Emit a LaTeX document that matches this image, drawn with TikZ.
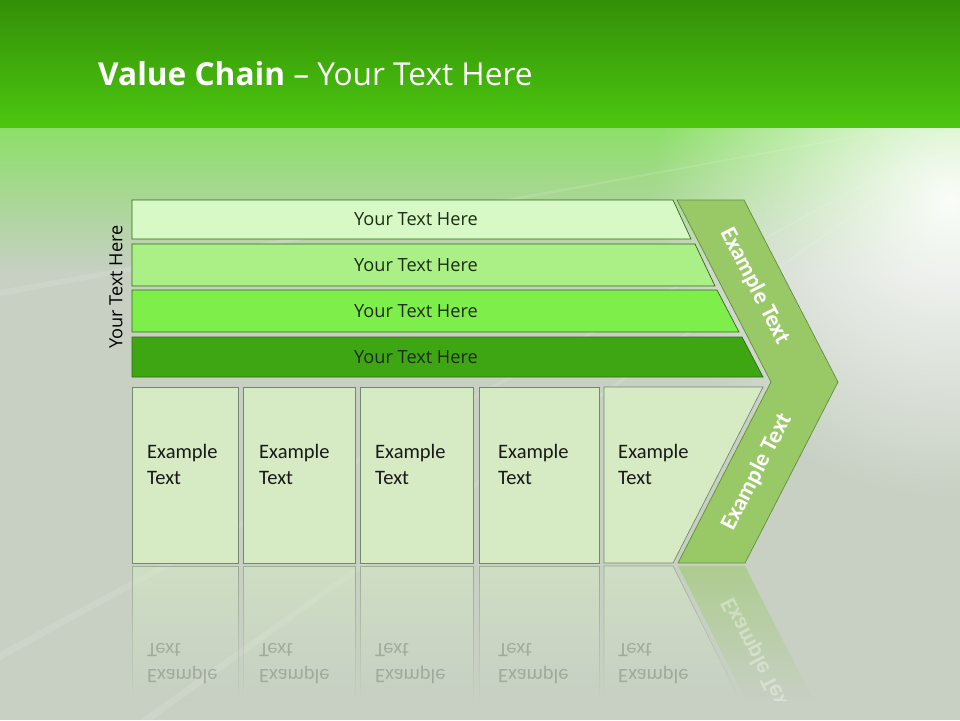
\documentclass[tikz,border=0pt]{standalone}
\usepackage{fontspec}
\setmainfont{Carlito}
\newfontfamily\barfont[Ligatures=TeX]{Open Sans}
\usetikzlibrary{fadings}

\definecolor{titletop}{HTML}{338F07}
\definecolor{titlebot}{HTML}{4CC70F}
\definecolor{bggrey}{HTML}{C7D0C3}
\definecolor{haze}{HTML}{8CE068}
\definecolor{barA}{HTML}{D6F9C6}
\definecolor{barB}{HTML}{AAF087}
\definecolor{barC}{HTML}{7EEE4B}
\definecolor{barD}{HTML}{3FA613}
\definecolor{barline}{HTML}{2F6A14}
\definecolor{bartext}{HTML}{1E2C16}
\definecolor{chevfill}{HTML}{99C966}
\definecolor{chevline}{HTML}{5F8F3C}
\definecolor{boxfill}{HTML}{D6EAC4}
\definecolor{boxline}{HTML}{75886D}

\tikzfading[name=reflfade, top color=transparent!45, bottom color=transparent!100]
\tikzfading[name=glowfade, inner color=transparent!0, outer color=transparent!100]
\tikzfading[name=hazefade, top color=transparent!0, bottom color=transparent!100]

\begin{document}
\begin{tikzpicture}[x=0.03cm, y=-0.03cm,
  bar/.style={draw=barline, line width=0.6pt},
  bartxt/.style={font=\barfont\fontsize{15.5}{18}\selectfont, text=bartext},
  exbox/.style={draw=boxline, fill=boxfill, line width=0.6pt},
  extxt/.style={font=\fontsize{17.5}{22}\selectfont, text=black!90, align=left, anchor=north west, inner sep=0pt},
  chevtxt/.style={font=\bfseries\fontsize{20}{24}\selectfont, text=white},
  ghost/.style={text opacity=0.22},
  ray/.style={fill=white, opacity=0.12}
]
\useasboundingbox (0,0) rectangle (960,720);

% Background
\fill[bggrey] (0,0) rectangle (960,720);
\fill[haze, path fading=hazefade] (0,127) rectangle (960,270);
\fill[white, path fading=glowfade, opacity=0.95] (950,200) circle (300);
\foreach \ya/\yb in {290/296, 652/660}
  \fill[ray] (1000,110) -- (0,\ya) -- (0,\yb) -- cycle;
\foreach \xa/\xb in {140/152}
  \fill[ray] (1000,110) -- (\xa,720) -- (\xb,720) -- cycle;

% Title bar
\shade[top color=titletop, bottom color=titlebot] (0,0) rectangle (960,127);
\node[anchor=base west, inner sep=0pt, text=white, font=\barfont\fontsize{27}{32}\selectfont] (title) at (98,85) {\textbf{Value Chain} -- Your Text Here};

% Side label
\node[rotate=90, font=\barfont\fontsize{15.5}{18}\selectfont, text=black] (side) at (116,287) {Your Text Here};

% Bars
\foreach \t/\b/\rt/\rb/\col/\nm in {200/239/673/691/barA/barone, 244/286/695/715/barB/bartwo, 290/332/717/739/barC/barthree, 337/377/742/763/barD/barfour}{
  \draw[bar, fill=\col] (132,\t) -- (\rt,\t) -- (\rb,\b) -- (132,\b) -- cycle;
  \node[bartxt] (\nm) at (416,{(\t+\b)/2}) {Your Text Here};
}

% Chevron
\draw[chevline, fill=chevfill, line width=0.6pt] (677,200) -- (744,200) -- (838,382) -- (745,563) -- (678,563) -- (771,382) -- cycle;
\node[chevtxt, rotate=-62.7] (chevup) at (755,286) {Example Text};
\node[chevtxt, rotate=62.7] (chevdown) at (757,472) {Example Text};

% Example boxes
\foreach \l/\r/\tx/\nm in {132/238/147/boxa, 243/355/259/boxb, 360/473/375/boxc, 479/599/498/boxd}{
  \draw[exbox] (\l,387) rectangle (\r,563);
  \node[extxt] (\nm) at (\tx,444) {Example\\Text};
}
\draw[exbox] (604,387) -- (763,387) -- (673,563) -- (604,563) -- cycle;
\node[extxt] (boxe) at (618,444) {Example\\Text};

% Reflection
\foreach \l/\r in {132/238, 243/355, 360/473, 479/599}
  \draw[exbox, path fading=reflfade] (\l,566) rectangle (\r,700);
\draw[exbox, path fading=reflfade] (604,566) -- (673,566) -- (740,700) -- (604,700) -- cycle;
\fill[chevfill, path fading=reflfade] (678,566) -- (745,566) -- (813,700) -- (746,700) -- cycle;
\foreach \tx/\nm in {147/ghosta, 259/ghostb, 375/ghostc, 498/ghostd, 618/ghoste}
  \node[extxt, ghost, yscale=-1] (\nm) at (\tx,684) {Example\\Text};
\begin{scope}
\clip (670,566) rectangle (860,700);
\node[chevtxt, text opacity=0.35, rotate=-62.7, yscale=-1] (ghostchev) at (757,656) {Example Text};
\end{scope}
\end{tikzpicture}
\end{document}
